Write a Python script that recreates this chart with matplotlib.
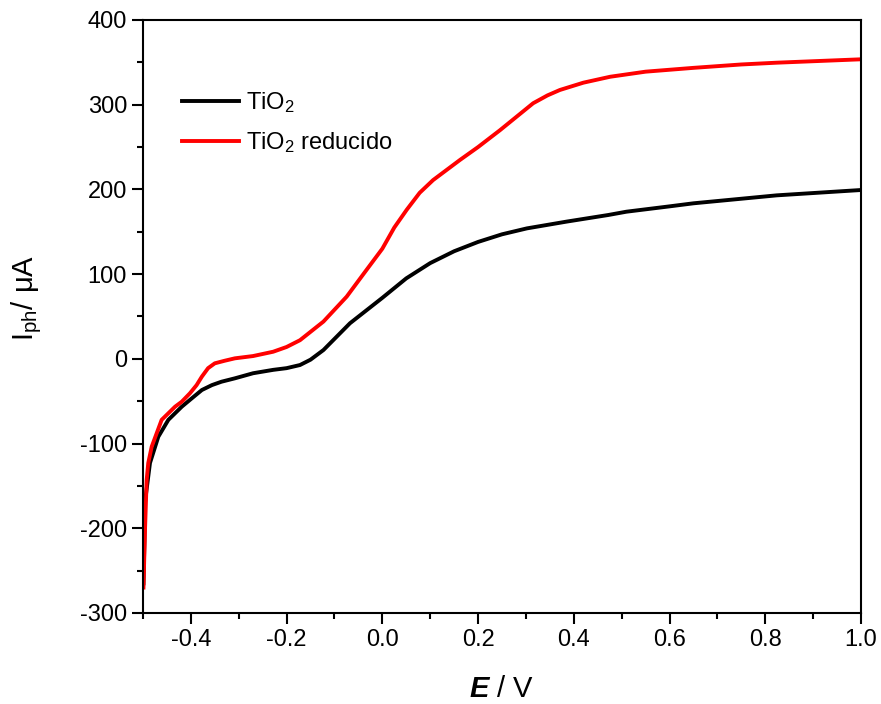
import numpy as np
import matplotlib
matplotlib.use('Agg')
import matplotlib.pyplot as plt
from matplotlib.ticker import MultipleLocator

plt.rcParams['font.family'] = ['Liberation Sans', 'DejaVu Sans']
plt.rcParams['mathtext.fontset'] = 'custom'
plt.rcParams['mathtext.rm'] = 'Liberation Sans'
plt.rcParams['mathtext.it'] = 'Liberation Sans:bold:italic'
plt.rcParams['mathtext.default'] = 'regular'
plt.rcParams['axes.unicode_minus'] = False

# data
E_red = [-0.499, -0.4958, -0.4923, -0.489, -0.4818, -0.461, -0.433, -0.419, -0.402,
         -0.388, -0.377, -0.364, -0.35, -0.329, -0.308, -0.27, -0.228, -0.2,
         -0.172, -0.123, -0.0745, -0.033, 0.0, 0.025, 0.051, 0.078, 0.106, 0.162, 0.2,
         0.246, 0.315, 0.345, 0.371, 0.42, 0.476, 0.55, 0.65, 0.75, 0.824, 1.0]
I_red = [-270, -202, -143, -123, -103.7, -72, -56.5, -50.6, -40.7,
         -31, -21, -11, -5.3, -2.2, 0.6, 3.3, 8.4, 14,
         22, 44, 73.4, 105, 130, 155, 176, 196, 211, 234.7, 250,
         270, 301.7, 311, 317.4, 326, 333, 339, 343.5, 347.5, 349.6, 353.6]

E_black = [-0.499, -0.497, -0.496, -0.4854, -0.468, -0.447, -0.419, -0.398, -0.377,
           -0.356, -0.336, -0.308, -0.27, -0.228, -0.2, -0.172, -0.15, -0.123,
           -0.0676, 0.0, 0.05, 0.1, 0.15, 0.2, 0.25, 0.302, 0.385, 0.472, 0.51,
           0.6, 0.65, 0.75, 0.824, 1.0]
I_black = [-265, -215, -170, -123, -92, -72, -56.5, -46.6, -36.8,
           -31, -27, -23, -17, -13, -11, -7.3, -1, 10.4,
           42, 72, 95, 113, 127, 138, 147, 154, 162, 169.8, 173.7,
           180, 183.6, 189, 193, 199.3]

labels = ['TiO$_2$', 'TiO$_2$ reducido']

fig = plt.figure(figsize=(8.81, 7.04), dpi=100)
ax = fig.add_axes([0.1623, 0.1293, 0.815, 0.8423])

ax.plot(E_black, I_black, color='black', lw=2.8, label=labels[0])
ax.plot(E_red, I_red, color='red', lw=2.8, label=labels[1])

ax.set_xlim(-0.5, 1.0)
ax.set_ylim(-300, 400)
ax.xaxis.set_minor_locator(MultipleLocator(0.1))
ax.yaxis.set_major_locator(MultipleLocator(100))
ax.yaxis.set_minor_locator(MultipleLocator(50))
ax.set_xticks(np.arange(-0.4, 1.01, 0.2))
ax.set_xticklabels(['%.1f' % v for v in np.arange(-0.4, 1.01, 0.2)])

ax.tick_params(which='major', direction='out', length=8, width=1.5, labelsize=17)
ax.tick_params(which='minor', direction='out', length=4.5, width=1.5)
for s in ax.spines.values():
    s.set_linewidth(1.5)

ax.set_xlabel('$\\mathit{E}$ / V', fontsize=21)
ax.set_ylabel('I$_{ph}$/ μA', fontsize=21)
ax.xaxis.set_label_coords(0.5, -0.105)
ax.yaxis.set_label_coords(-0.138, 0.531)

ax.legend(loc='upper left', bbox_to_anchor=(0.025, 0.918), frameon=False,
          fontsize=17, handlelength=2.4, labelspacing=0.65, handletextpad=0.3)

fig.savefig('out.png', dpi=100)
